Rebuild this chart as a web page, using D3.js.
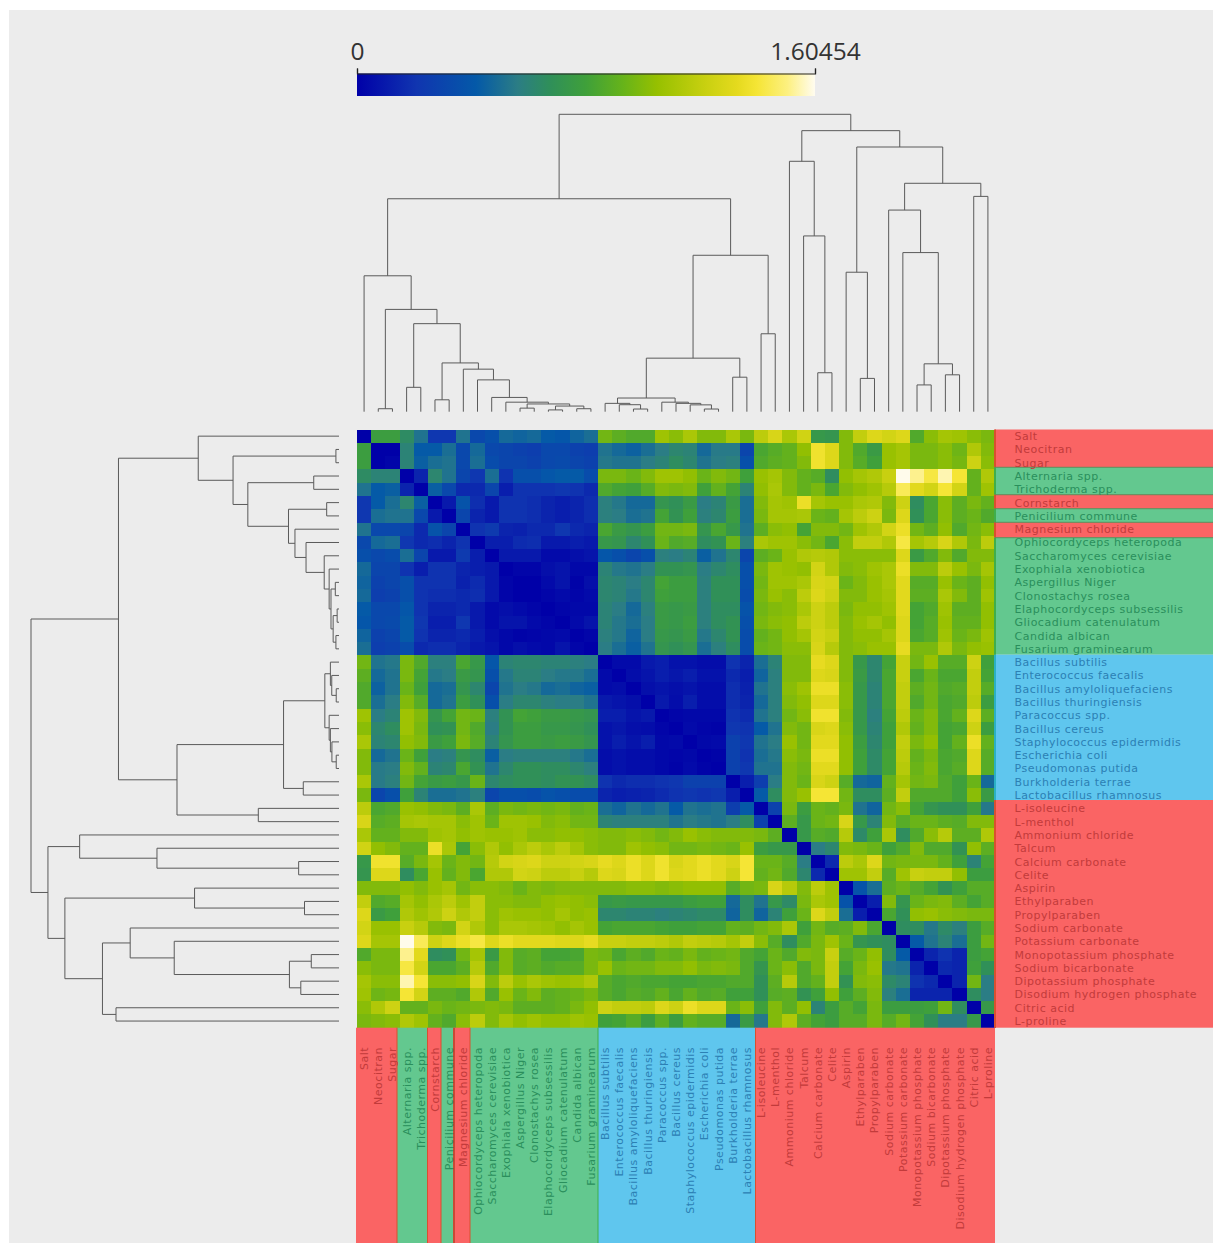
<!DOCTYPE html>
<html>
<head>
<meta charset="utf-8">
<script src="https://cdn.jsdelivr.net/npm/d3@7"></script>
<style>
    html, body { margin: 0; padding: 0; background: #fff; overflow: hidden; }
    svg { display: block; }
</style>
</head>
<body>
<div id="chart"></div>
<script>
// Leaf order of the clustering
const labels = ["Salt", "Neocitran", "Sugar", "Alternaria spp.", "Trichoderma spp.", "Cornstarch", "Penicilium commune", "Magnesium chloride",
    "Ophiocordyceps heteropoda", "Saccharomyces cerevisiae", "Exophiala xenobiotica", "Aspergillus Niger", "Clonostachys rosea",
    "Elaphocordyceps subsessilis", "Gliocadium catenulatum", "Candida albican", "Fusarium graminearum",
    "Bacillus subtilis", "Enterococcus faecalis", "Bacillus amyloliquefaciens", "Bacillus thuringiensis", "Paracoccus spp.", "Bacillus cereus",
    "Staphylococcus epidermidis", "Escherichia coli", "Pseudomonas putida", "Burkholderia terrae", "Lactobacillus rhamnosus",
    "L-isoleucine", "L-menthol", "Ammonium chloride", "Talcum", "Calcium carbonate", "Celite", "Aspirin", "Ethylparaben", "Propylparaben",
    "Sodium carbonate", "Potassium carbonate", "Monopotassium phosphate", "Sodium bicarbonate", "Dipotassium phosphate",
    "Disodium hydrogen phosphate", "Citric acid", "L-proline"];

// r = chemical, g = fungus, b = bacterium
const groups = ["r","r","r","g","g","r","g","r","g","g","g","g","g","g","g","g","g",
    "b","b","b","b","b","b","b","b","b","b","b",
    "r","r","r","r","r","r","r","r","r","r","r","r","r","r","r","r","r"];

// Distances, in hundredths
const distances = [
    [0,78,78,65,52,22,22,52,32,36, 48,46,48,42,40,46,50, 96,90,86,86,108,102, 112,100,100,112,98, 118,128,112,125,74,72, 100,120,130,126,130, 86,102,110,108,102,98],
    [78,0,0,60,42,42,50,32,48,32, 30,28,26,32,32,28,26, 52,48,45,50,56,62, 60,48,55,55,30, 84,88,92,104,138,130, 100,86,76,106,110, 98,98,102,95,114,100],
    [78,0,2,60,44,50,52,32,50,34, 30,30,28,32,33,30,28, 54,52,52,56,60,66, 62,52,56,58,36, 86,90,92,100,138,130, 100,88,80,106,110, 98,98,102,97,124,102],
    [65,60,60,0,14,62,52,30,22,50, 20,36,36,40,42,42,34, 98,98,94,100,108,108, 104,94,100,96,80, 106,110,100,92,88,66, 104,110,114,122,160, 152,142,155,140,92,114],
    [52,42,44,14,0,44,32,16,16,30, 12,20,20,20,22,20,16, 86,82,80,88,100,98, 100,80,92,82,60, 104,112,100,92,98,84, 100,104,108,116,145, 132,126,140,126,92,108],
    [22,42,50,62,44,0,10,38,18,10, 20,20,18,14,12,14,18, 58,54,48,48,72,68, 76,56,60,76,50, 100,110,108,136,110,106, 106,112,114,100,124, 66,84,102,90,98,92],
    [22,50,52,52,32,10,0,30,14,10, 20,20,18,14,12,14,18, 58,56,50,52,82,70, 80,58,62,78,50, 98,110,110,112,94,92, 110,118,124,98,130, 68,84,102,90,94,86],
    [52,32,32,30,16,38,30,0,20,24, 14,13,16,16,22,16,14, 84,76,72,78,96,96, 98,72,84,74,52, 90,102,104,82,100,100, 96,108,114,126,136, 96,90,104,86,96,102],
    [32,48,50,22,16,18,14,20,0,12, 12,17,18,10,10,12,10, 74,72,62,68,94,86, 88,66,70,94,58, 112,108,108,102,96,84, 102,120,120,114,142, 110,116,128,114,98,118],
    [36,32,34,50,30,10,10,24,12,0, 10,10,10,4,4,6,8, 40,36,30,36,58,56, 60,44,52,62,30, 90,94,106,114,116,114, 102,102,102,102,130, 76,86,100,86,100,100],
    [48,30,30,20,12,20,20,14,12,10, 0,2,2,6,8,3,3, 60,54,52,56,70,70, 72,56,62,66,36, 98,108,106,104,126,114, 100,102,108,112,136, 100,100,118,106,98,110],
    [46,28,30,36,20,20,20,13,17,10, 2,0,0,4,8,1,6, 62,60,56,62,82,78, 78,58,68,68,36, 96,108,108,112,128,126, 94,100,106,112,132, 88,88,106,94,90,104],
    [48,26,28,36,20,18,18,16,18,10, 2,0,0,2,4,2,4, 62,60,54,62,80,78, 78,58,68,68,34, 98,106,102,118,130,124, 100,100,106,110,132, 90,90,112,100,90,108],
    [42,32,32,40,20,14,14,16,10,4, 6,4,2,0,2,3,3, 60,56,48,58,76,74, 76,58,66,66,38, 96,100,102,112,124,118, 98,104,104,108,132, 82,86,108,90,90,104],
    [40,32,33,42,22,12,12,22,10,4, 8,8,4,2,0,4,8, 60,54,50,56,76,74, 78,58,66,70,36, 98,102,104,118,124,118, 100,106,110,104,130, 82,88,106,92,92,104],
    [46,28,30,42,20,14,14,16,12,6, 3,1,2,3,4,0,2, 58,54,46,56,74,72, 76,54,62,70,34, 92,96,104,110,126,122, 100,104,104,110,130, 84,88,108,94,98,108],
    [50,26,28,34,16,18,18,14,10,8, 3,6,4,3,8,2,0, 56,50,44,52,72,68, 72,50,58,66,34, 94,96,102,102,128,116, 100,102,106,106,134, 98,98,114,98,104,106],
    [96,52,54,98,86,58,58,84,74,40, 60,62,62,60,60,58,56, 0,4,4,10,12,7, 7,5,5,20,14, 50,60,100,100,134,130, 100,74,62,82,122, 96,106,88,88,124,80],
    [90,48,52,98,82,54,56,76,72,36, 54,60,60,56,54,54,50, 4,0,5,8,12,9, 12,7,7,16,12, 46,58,100,100,130,128, 100,76,62,84,122, 84,94,84,84,120,82],
    [86,45,52,94,80,48,50,72,62,30, 52,56,54,48,50,46,44, 4,5,0,6,8,6, 8,5,5,18,13, 52,58,102,108,136,136, 102,74,60,84,120, 90,96,86,88,120,88],
    [86,50,56,100,88,48,52,78,68,36, 56,62,62,58,56,56,52, 10,8,6,0,10,5, 12,5,5,18,14, 48,58,100,104,130,130, 102,74,60,84,120, 86,96,84,86,118,78],
    [108,56,60,108,100,72,82,96,94,58, 70,82,80,76,76,74,72, 12,12,8,10,0,2, 3,3,3,20,17, 52,58,96,102,138,138, 100,74,58,82,118, 94,100,84,92,130,90],
    [102,62,66,108,98,68,70,96,86,56, 70,78,78,74,74,72,68, 7,9,6,5,2,0, 4,2,1,22,20, 42,52,100,96,128,130, 102,74,60,80,114, 92,100,82,84,124,78],
    [112,60,62,104,100,76,80,98,88,60, 72,78,78,76,78,76,72, 7,12,8,12,3,4, 0,3,4,28,22, 52,56,106,96,132,132, 104,78,62,80,120, 98,104,82,92,136,92],
    [100,48,52,94,80,56,58,72,66,44, 56,58,58,58,58,54,50, 5,7,5,5,3,2, 3,0,1,28,20, 50,54,102,98,136,136, 104,80,64,82,118, 92,98,84,86,130,88],
    [100,55,56,100,92,60,62,84,70,52, 62,68,68,66,66,62,58, 5,7,5,5,3,1, 4,1,0,28,22, 52,52,100,96,132,132, 104,80,64,82,116, 94,100,84,88,130,88],
    [112,55,58,96,82,76,78,74,94,62, 66,68,68,66,70,70,66, 20,16,18,18,20,22, 28,28,28,0,12, 26,56,100,94,128,124, 88,48,46,92,110, 96,98,86,80,94,48],
    [98,30,36,80,60,50,50,52,58,30, 36,36,34,38,36,34,34, 14,12,13,14,17,20, 22,20,22,12,0, 42,66,100,106,140,140, 96,66,66,90,120, 86,86,86,80,102,76],
    [118,84,86,106,104,100,98,90,112,90, 98,96,98,96,98,92,94, 50,46,52,48,52,42, 52,50,52,26,42, 0,28,98,78,94,92, 98,52,46,96,102, 82,72,68,68,80,54],
    [128,88,90,110,112,110,110,102,108,94, 108,108,106,100,102,96,96, 60,58,58,58,58,52, 56,54,52,56,66, 28,0,90,74,94,96, 128,74,60,100,88, 94,94,90,88,100,100],
    [112,92,92,100,100,108,110,104,108,106, 106,108,102,102,104,104,102, 100,100,102,100,96,100, 106,102,100,100,100, 98,90,0,74,88,86, 116,64,80,112,66, 86,102,116,90,90,114],
    [125,104,100,92,92,136,112,82,102,114, 104,112,118,112,118,110,102, 100,100,108,104,102,96, 96,98,96,94,106, 78,74,74,0,56,62, 100,98,94,80,86, 100,86,86,70,104,90],
    [74,138,138,88,98,110,94,100,96,116, 126,128,130,124,124,126,128, 134,130,136,130,138,128, 132,136,132,128,140, 94,94,88,56,0,16, 118,112,130,96,98, 98,98,92,80,60,82],
    [72,130,130,66,84,106,92,100,84,114, 114,126,124,118,118,122,116, 130,128,136,130,138,130, 132,136,132,124,140, 92,96,86,62,16,0, 108,108,120,88,108, 122,120,120,104,78,78],
    [100,100,100,104,100,106,110,96,102,102, 100,94,100,98,100,100,100, 100,100,102,102,100,102, 104,104,104,88,96, 98,128,116,100,118,108, 0,38,50,90,94, 88,82,70,80,88,88],
    [120,86,88,110,104,112,118,108,120,102, 102,100,100,104,106,104,102, 74,76,74,74,74,74, 78,80,80,48,66, 52,74,64,98,112,108, 38,0,12,100,72, 94,98,100,90,82,88],
    [130,76,80,114,108,114,124,114,120,102, 108,106,106,104,110,104,106, 62,62,60,60,58,60, 62,64,64,46,66, 46,60,80,94,130,120, 50,12,0,84,68, 104,106,102,100,98,98],
    [126,106,106,122,116,100,98,126,114,102, 112,112,110,108,104,110,106, 82,84,84,84,82,80, 80,82,82,92,90, 96,100,112,80,96,88, 90,100,84,0,66, 66,54,64,58,78,88],
    [130,110,110,160,145,124,130,136,142,130, 136,132,132,132,130,130,134, 122,122,120,120,118,114, 120,118,116,110,120, 102,88,66,86,98,108, 94,72,68,66,0, 42,52,60,50,78,96],
    [86,98,98,152,132,66,68,96,110,76, 100,88,90,82,82,84,98, 96,84,90,86,94,92, 98,92,94,96,86, 82,94,86,100,98,122, 88,94,104,66,42, 0,14,20,14,78,82],
    [102,98,98,142,126,84,84,90,116,86, 100,88,90,86,88,88,98, 106,94,96,96,100,100, 104,98,100,98,86, 72,94,102,86,98,120, 82,98,106,54,52, 14,0,16,14,80,68],
    [110,102,102,155,140,102,102,104,128,100, 118,106,112,108,106,108,114, 88,84,86,84,84,82, 82,84,84,86,86, 68,90,116,86,92,120, 70,100,102,64,60, 20,16,0,14,96,56],
    [108,95,97,140,126,90,90,86,114,86, 106,94,100,90,92,94,98, 88,84,88,86,92,84, 92,86,88,80,80, 68,88,90,70,80,104, 80,90,100,58,50, 14,14,14,0,66,56],
    [102,114,124,92,92,98,94,96,98,100, 98,90,90,90,92,98,104, 124,120,120,118,130,124, 136,130,130,94,102, 80,100,90,104,60,78, 88,82,98,78,78, 78,80,96,66,0,74],
    [98,100,102,114,108,92,86,102,118,100, 110,104,108,104,104,108,106, 80,82,88,78,90,78, 92,88,88,48,76, 54,100,114,90,82,78, 88,88,98,88,96, 82,68,56,56,74,0]
];

// Merge tree as [height, left, right], height in percent of the root, leaves are indices into labels
const treeFungi = [45.7, 0, [34.4, [1.0, 1, 2], [29.6, [8.2, 3, 4], [16.4, [4.0, 5, 6], [14.3, 7, [10.7, 8, [4.8, 9, [3.2, 10,
    [2.6, [1.2, 11, 12], [1.9, [0.6, 13, 14], [1.0, 15, 16]]]]]]]]]]];
const treeBacteria = [52.6, [18.0, [4.6, [2.8, 17, [2.35, 18, [0.9, 19, 20]]], [3.2, 21, [2.8, 22, [2.3, 23, [0.9, 24, 25]]]]], [11.6, 26, 27]], [26.2, 28, 29]];
const treeChemicals = [94.5, [84.2, 30, [59.1, 31, [13.1, 32, 33]]], [89.0, [46.9, 34, [11.2, 35, 36]],
    [76.8, [67.8, 37, [53.5, 38, [16.1, [9.0, 39, 40], [12.4, 41, 42]]]], [72.4, 43, 44]]]];
const tree = [100, [71.6, treeFungi, treeBacteria], treeChemicals];

// Colour bar
const maxValue = 1.60454;
const colorStops = [0, 0.13, 0.26, 0.35, 0.42, 0.5, 0.58, 0.655, 0.76, 0.83, 0.873, 0.94, 1];
const colorValues = ["#0000a8", "#1035b0", "#0459a8", "#2b7d85", "#2f8f5a", "#3fa03a", "#66b31a", "#96c000", "#c8d010", "#e5da1e", "#f5e535", "#fdf080", "#fffcf0"];

const groupFill = { r: "#fa6464", g: "#63c88f", b: "#5fc6ee" };
const groupText = { r: "#c23b3b", g: "#2a8f5c", b: "#2c80b4" };
const groupLine = { r: "#d9502f", g: "#3fae4c", b: "#2ab0c4" };

const heat = { left: 357, right: 995, top: 429.5, bottom: 1027.7 };
const ids = d3.range(labels.length);

// The label panels do not line up exactly with the cells
const rightEdges = [429.5, 467.3, 494.7, 508.7, 522.3, 537.7, 654.7, 800, 1027.7];
const bottomEdges = [356, 397, 427.5, 441, 454, 470, 598, 755.5, 995];

const svg = d3.select("#chart").append("svg")
    .attr("width", 1213)
    .attr("height", 1243);

svg.append("rect")
    .attr("x", 9).attr("y", 10)
    .attr("width", 1204).attr("height", 1233)
    .attr("fill", "#ececec");

// Scales
const xBand = d3.scaleBand().domain(ids).range([heat.left, heat.right]);
const yBand = d3.scaleBand().domain(ids).range([heat.top, heat.bottom]);
const color = d3.scaleLinear()
    .domain(colorStops.map(d => d * maxValue * 100))
    .range(colorValues)
    .clamp(true);

// Heatmap cells
const cells = distances.flatMap((row, i) => row.map((v, j) => ({ i, j, v })));
svg.append("g").selectAll("rect")
    .data(cells)
    .join("rect")
    .attr("x", d => xBand(d.j))
    .attr("y", d => yBand(d.i))
    .attr("width", xBand.bandwidth() + 0.5)
    .attr("height", yBand.bandwidth() + 0.5)
    .attr("shape-rendering", "crispEdges")
    .attr("fill", d => color(d.v));

// Runs of equal group for the coloured label panels
let segments = [];
groups.forEach((g, i) => {
    const last = segments[segments.length - 1];
    if (last && last.g === g) last.end = i;
    else segments.push({ g, start: i, end: i, n: segments.length });
});

// Right label panel
const rightPanel = svg.append("g");
rightPanel.selectAll("rect")
    .data(segments)
    .join("rect")
    .attr("x", heat.right)
    .attr("y", d => rightEdges[d.n])
    .attr("width", 1213 - heat.right)
    .attr("height", d => rightEdges[d.n + 1] - rightEdges[d.n])
    .attr("fill", d => groupFill[d.g]);
rightPanel.selectAll(".edge")
    .data(segments)
    .join("rect")
    .attr("class", "edge")
    .attr("x", heat.right - 1)
    .attr("y", d => rightEdges[d.n])
    .attr("width", 2)
    .attr("height", d => rightEdges[d.n + 1] - rightEdges[d.n])
    .attr("fill", d => groupLine[d.g]);
rightPanel.selectAll(".sep")
    .data(segments.slice(1).filter(d => d.g !== "b" && groups[d.start - 1] !== "b"))
    .join("line")
    .attr("class", "sep")
    .attr("x1", heat.right).attr("x2", 1213)
    .attr("y1", d => rightEdges[d.n]).attr("y2", d => rightEdges[d.n])
    .attr("stroke", "#5d8a58")
    .attr("stroke-width", 1);
rightPanel.selectAll("text")
    .data(ids)
    .join("text")
    .attr("x", 1014.5)
    .attr("y", d => yBand(d) + yBand.bandwidth() / 2 + 1)
    .attr("dominant-baseline", "middle")
    .style("font-family", "DejaVu Sans")
    .style("font-size", "11px")
    .style("letter-spacing", "0.5px")
    .attr("fill", d => groupText[groups[d]])
    .text(d => labels[d]);

// Bottom label panel
const bottomPanel = svg.append("g");
bottomPanel.selectAll("rect")
    .data(segments)
    .join("rect")
    .attr("x", d => bottomEdges[d.n])
    .attr("y", heat.bottom)
    .attr("width", d => bottomEdges[d.n + 1] - bottomEdges[d.n])
    .attr("height", 1243 - heat.bottom)
    .attr("fill", d => groupFill[d.g]);
bottomPanel.selectAll(".sep")
    .data(segments.slice(1))
    .join("line")
    .attr("class", "sep")
    .attr("x1", d => bottomEdges[d.n]).attr("x2", d => bottomEdges[d.n])
    .attr("y1", heat.bottom).attr("y2", 1243)
    .attr("stroke", d => d.start === 7 ? "#c94a35" : groupLine[d.g === "r" ? "r" : groups[d.start - 1]])
    .attr("stroke-width", d => d.start === 7 ? 2 : 1);
bottomPanel.selectAll("text")
    .data(ids)
    .join("text")
    .attr("transform", d => `translate(${xBand(d) + xBand.bandwidth() / 2 + 1}, 1047) rotate(-90)`)
    .attr("text-anchor", "end")
    .attr("dominant-baseline", "middle")
    .style("font-family", "DejaVu Sans")
    .style("font-size", "11px")
    .style("letter-spacing", "0.5px")
    .attr("fill", d => groupText[groups[d]])
    .text(d => labels[d]);

// Dendrograms: walk the tree and collect one bracket per merge
function collectMerges(node, out) {
    if (typeof node === "number") return { pos: node, h: 0, leaf: true };
    const a = collectMerges(node[1], out);
    const b = collectMerges(node[2], out);
    out.push({ a, b, h: node[0] });
    return { pos: (a.pos + b.pos) / 2, h: node[0] };
}
const merges = [];
collectMerges(tree, merges);

const leafX = d3.scaleLinear().domain([0, 44]).range([xBand(0) + xBand.bandwidth() / 2, xBand(44) + xBand.bandwidth() / 2]);
const leafY = d3.scaleLinear().domain([0, 44]).range([yBand(0) + yBand.bandwidth() / 2, yBand(44) + yBand.bandwidth() / 2]);
const topH = d3.scaleLinear().domain([0, 100]).range([411.7, 114.3]);
const sideH = d3.scaleLinear().domain([0, 100]).range([339, 31]);

const link = d3.path;
function bracketTop(m) {
    const p = link();
    p.moveTo(leafX(m.a.pos), topH(m.a.h));
    p.lineTo(leafX(m.a.pos), topH(m.h));
    p.lineTo(leafX(m.b.pos), topH(m.h));
    p.lineTo(leafX(m.b.pos), topH(m.b.h));
    return p.toString();
}
function bracketSide(m) {
    const p = link();
    p.moveTo(sideH(m.a.h), leafY(m.a.pos));
    p.lineTo(sideH(m.h), leafY(m.a.pos));
    p.lineTo(sideH(m.h), leafY(m.b.pos));
    p.lineTo(sideH(m.b.h), leafY(m.b.pos));
    return p.toString();
}

svg.append("g").selectAll("path")
    .data(merges)
    .join("path")
    .attr("d", bracketTop)
    .attr("fill", "none")
    .attr("stroke", "#5a5a5a")
    .attr("stroke-width", 1);

svg.append("g").selectAll("path")
    .data(merges)
    .join("path")
    .attr("d", bracketSide)
    .attr("fill", "none")
    .attr("stroke", "#5a5a5a")
    .attr("stroke-width", 1);

// Colour bar with its axis
const barScale = d3.scaleLinear().domain([0, maxValue]).range([357, 815]);
const gradient = svg.append("defs").append("linearGradient")
    .attr("id", "colorbar-gradient")
    .attr("x1", "0%").attr("x2", "100%");
gradient.selectAll("stop")
    .data(colorStops)
    .join("stop")
    .attr("offset", d => `${d * 100}%`)
    .attr("stop-color", (d, i) => colorValues[i]);

svg.append("rect")
    .attr("x", barScale(0))
    .attr("y", 73.5)
    .attr("width", barScale(maxValue) - barScale(0))
    .attr("height", 22.5)
    .attr("fill", "url(#colorbar-gradient)");

const barAxis = d3.axisTop(barScale)
    .tickValues([0, maxValue])
    .tickFormat(d3.format(".6~g"))
    .tickSize(5)
    .tickPadding(9);

const barAxisG = svg.append("g")
    .attr("transform", "translate(0, 73.5)")
    .call(barAxis);
barAxisG.selectAll("text")
    .style("font-family", "Open Sans")
    .style("font-size", "24.5px")
    .attr("fill", "#333");
barAxisG.selectAll("line, path")
    .attr("stroke", "#222")
    .attr("stroke-width", 1.2);
</script>
</body>
</html>
